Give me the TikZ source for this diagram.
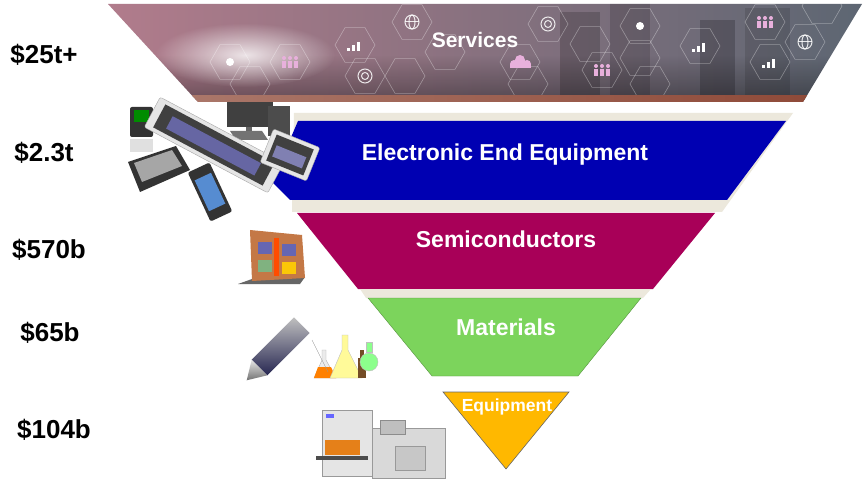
\documentclass[tikz,border=0pt]{standalone}
\usepackage{fontspec}
\setmainfont{Liberation Sans}
\usetikzlibrary{calc,shapes.geometric,fadings}

\definecolor{servpink}{RGB}{178,124,140}
\definecolor{servmauve}{RGB}{138,112,122}
\definecolor{servgrey}{RGB}{92,102,114}
\definecolor{servrust}{RGB}{140,70,52}
\definecolor{eeeblue}{RGB}{0,0,178}
\definecolor{semired}{RGB}{168,0,88}
\definecolor{matgreen}{RGB}{124,212,92}
\definecolor{equipgold}{RGB}{255,184,0}
\definecolor{bandbeige}{RGB}{236,232,220}
\definecolor{iconpink}{RGB}{232,176,220}
\definecolor{chipbronze}{RGB}{196,120,70}

\tikzfading[name=softglow, inner color=transparent!0, outer color=transparent!100]

\tikzset{
  layertext/.style={text=white, font=\bfseries\fontsize{23pt}{27pt}\selectfont},
  valuetext/.style={text=black, font=\bfseries\fontsize{26pt}{30pt}\selectfont},
  hexcell/.style={regular polygon, regular polygon sides=6, minimum size=40pt, inner sep=0pt,
    draw=white, draw opacity=0.35, line width=0.6pt},
  iconline/.style={draw=white, draw opacity=0.85, line width=1pt},
  gadget/.style={fill=black!80, rounded corners=2pt},
  bezel/.style={fill=black!10, draw=black!35, rounded corners=2pt},
}

\begin{document}
\begin{tikzpicture}[x=1pt, y=-1pt]
			%%%%% START %%%%%
			\useasboundingbox (0,0) rectangle (864,486);
			\fill[white] (0,0) rectangle (864,486);
			
			% services band
			\begin{scope}
			\clip (108,4) -- (862,4) -- (803,102) -- (198,102) -- cycle;
			\shade[left color=servpink, middle color=servmauve, right color=servgrey] (100,0) rectangle (870,105);
			\fill[black, opacity=0.18] (560,12) rectangle (600,95);
			\fill[black, opacity=0.15] (610,0) rectangle (650,95);
			\fill[black, opacity=0.2] (700,20) rectangle (735,95);
			\fill[black, opacity=0.12] (745,8) rectangle (790,95);
			\fill[black, opacity=0.35, path fading=north] (100,55) rectangle (870,100);
			\fill[white, opacity=0.8, path fading=softglow] (245,55) ellipse (90 and 32);
			\foreach \hx/\hy [count=\i] in {230/62, 250/84, 290/62, 355/45, 365/76, 412/22, 405/76,
			  445/52, 520/62, 528/84, 548/24, 590/44, 602/70, 640/26, 640/58, 650/84, 700/46,
			  765/22, 770/62, 805/42, 822/6}
			  \node[hexcell] (hex\i) at (\hx,\hy) {};
			\shade[left color=servrust!70, right color=servrust] (100,96) rectangle (870,102);
			\end{scope}
			
			% service icons
			\foreach \cx/\cy in {355/45, 700/46, 770/62}{
			  \fill[white] (\cx-8,\cy+6) rectangle ++(3,-3);
			  \fill[white] (\cx-3,\cy+6) rectangle ++(3,-6);
			  \fill[white] (\cx+2,\cy+6) rectangle ++(3,-9);
			}
			\foreach \cx/\cy in {412/22, 805/42}{
			  \draw[iconline] (\cx,\cy) circle (7);
			  \draw[iconline] (\cx,\cy) ellipse (3 and 7);
			  \draw[iconline] (\cx-7,\cy) -- (\cx+7,\cy);
			}
			\foreach \cx/\cy in {365/76, 548/24}{
			  \draw[iconline] (\cx,\cy) circle (7);
			  \draw[iconline] (\cx,\cy) circle (3.5);
			}
			\foreach \cx/\cy in {290/62, 602/70, 765/22}{
			  \foreach \dx in {-6,0,6}{
			    \fill[iconpink] (\cx+\dx,\cy-4) circle (2);
			    \fill[iconpink] (\cx+\dx-2,\cy-1) rectangle ++(4,7);
			  }
			}
			\fill[iconpink] (514,64) circle (4) (520,60) circle (5) (527,64) circle (4);
			\fill[iconpink] (510,64) rectangle (531,68);
			\fill[white] (230,62) circle (4);
			\fill[white] (640,26) circle (4);
			
			% electronic end equipment
			\fill[bandbeige] (294,113) -- (793,113) -- (722,212) -- (292,212) -- cycle;
			\fill[eeeblue] (298,121) -- (786,121) -- (727,200) -- (290,200) -- (272,182) -- cycle;
			
			% semiconductors, materials, equipment
			\fill[semired] (297,213) -- (715,213) -- (653,289) -- (358,289) -- cycle;
			\fill[bandbeige] (360,289) -- (651,289) -- (643,298) -- (366,298) -- cycle;
			\fill[matgreen, draw=matgreen!70!black, line width=0.4pt] (368,298) -- (641,298) -- (578,376) -- (432,376) -- cycle;
			\fill[equipgold, draw=black!60, line width=0.6pt] (443,392) -- (569,392) -- (506,469) -- cycle;
			
			% devices
			\fill[black!75] (227,102) rectangle (273,127);
			\fill[black!60] (246,127) rectangle (252,133);
			\fill[black!55] (230,131) -- (262,131) -- (268,140) -- (236,140) -- cycle;
			\fill[black!70] (268,106) rectangle (290,136);
			\fill[gadget] (130,107) rectangle (153,137);
			\fill[green!55!black] (134,110) rectangle (149,122);
			\fill[black!12] (130,139) rectangle (153,152);
			\begin{scope}[shift={(214,145)}, rotate=-28]
			  \fill[bezel] (-70,-17) rectangle (70,17);
			  \fill[black!75] (-62,-13) rectangle (62,13);
			  \fill[blue!40!black!60] (-50,-6) rectangle (50,8);
			\end{scope}
			\fill[black!80] (128,162) -- (176,146) -- (190,170) -- (140,192) -- cycle;
			\fill[black!35] (134,163) -- (172,150) -- (182,166) -- (142,182) -- cycle;
			\begin{scope}[shift={(290,155)}, rotate=-22]
			  \fill[bezel] (-25,-18) rectangle (25,18);
			  \fill[black!75] (-20,-14) rectangle (20,14);
			  \fill[blue!40!black!50] (-16,-4) rectangle (16,8);
			\end{scope}
			\begin{scope}[shift={(210,192)}, rotate=-65]
			  \fill[gadget] (-27,-12) rectangle (27,12);
			  \fill[cyan!50!blue!70] (-17,-9) rectangle (17,9);
			\end{scope}
			
			% chip
			\fill[black!60] (238,284) -- (252,279) -- (305,277) -- (300,284) -- cycle;
			\fill[chipbronze] (250,230) -- (302,235) -- (305,278) -- (252,281) -- cycle;
			\fill[blue!50!black!60] (258,242) rectangle (272,254);
			\fill[blue!50!black!60] (282,244) rectangle (296,256);
			\fill[green!40!black!50] (258,260) rectangle (272,272);
			\fill[yellow!60!orange] (282,262) rectangle (296,274);
			\fill[orange!60!red] (274,238) rectangle (279,276);
			
			% ingot and flasks
			\begin{scope}[shift={(275,352)}, rotate=45]
			  \shade[top color=black!25, bottom color=blue!20!black!85] (-22,-11) rectangle (38,11);
			  \shade[top color=black!10, bottom color=black!55] (-22,-11) -- (-40,0) -- (-22,11) -- cycle;
			\end{scope}
			\fill[black!8, draw=black!30] (322,350) -- (326,350) -- (326,360) -- (336,378) -- (314,378) -- (322,360) -- cycle;
			\fill[orange] (318,367) -- (331,367) -- (336,378) -- (314,378) -- cycle;
			\draw[black!40] (312,340) -- (328,372);
			\fill[yellow!40, draw=black!25] (342,335) -- (348,335) -- (348,350) -- (362,378) -- (330,378) -- (342,350) -- cycle;
			\fill[brown!60!black] (358,358) rectangle (366,378);
			\fill[brown!60!black] (360,350) rectangle (364,358);
			\fill[green!45!white, draw=black!25] (366,342) rectangle (372,352);
			\fill[green!45!white, draw=black!25] (369,362) circle (9);
			
			% equipment machine
			\fill[black!10, draw=black!40] (322,410) rectangle (372,476);
			\fill[blue!60] (326,414) rectangle (334,418);
			\fill[orange!60!brown] (325,440) rectangle (360,455);
			\fill[black!70] (316,456) rectangle (368,460);
			\fill[black!15, draw=black!40] (372,428) rectangle (445,478);
			\fill[black!25, draw=black!45] (380,420) rectangle (405,434);
			\fill[black!22, draw=black!40] (395,446) rectangle (425,470);
			
			% labels
			\node[layertext, font=\bfseries\fontsize{21pt}{24pt}\selectfont] (services) at (475,40) {Services};
			\node[layertext] (eee) at (505,155) {Electronic End Equipment};
			\node[layertext] (semis) at (506,239) {Semiconductors};
			\node[layertext] (materials) at (506,327) {Materials};
			\node[layertext, font=\bfseries\fontsize{17.5pt}{20pt}\selectfont] (equipment) at (507,407) {Equipment};
			
			\node[valuetext] (v1) at (44,55) {\$25t+};
			\node[valuetext] (v2) at (44,153) {\$2.3t};
			\node[valuetext] (v3) at (49,250) {\$570b};
			\node[valuetext] (v4) at (50,333) {\$65b};
			\node[valuetext] (v5) at (54,430) {\$104b};
			%%%%% END %%%%%
\end{tikzpicture}
\end{document}
